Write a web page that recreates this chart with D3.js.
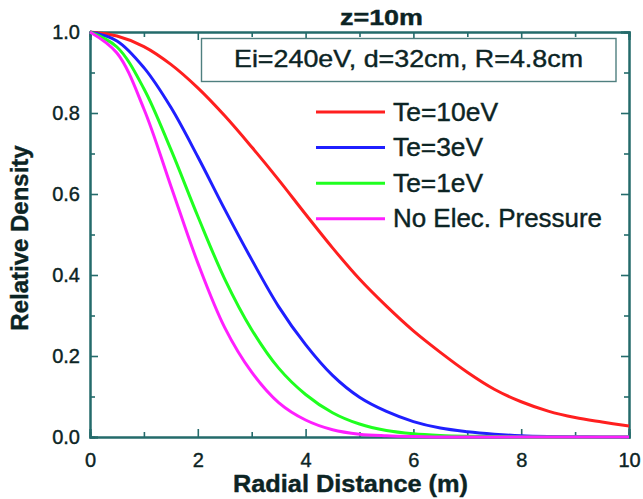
<!DOCTYPE html>
<html>
<head>
<meta charset="utf-8">
<script src="https://cdn.jsdelivr.net/npm/d3@7/dist/d3.min.js"></script>
<style>
  html, body { margin: 0; padding: 0; background: #fff; }
  svg { display: block; }
  text { font-family: "Liberation Sans", Arial, Helvetica, sans-serif; fill: #0c2424; stroke: #0c2424; stroke-width: 0.4px; }
</style>
</head>
<body>
<svg id="chart" width="643" height="499"></svg>
<script>
// Radial distance samples (m)
const radius = [0, 0.5, 1, 1.5, 2, 2.5, 3, 3.5, 4, 4.5, 5, 5.5, 6, 6.5, 7, 7.5, 8, 8.5, 9, 9.5, 10];

// Relative density profiles for each electron temperature case
const te10 = [1.0, 0.99, 0.964, 0.92, 0.862, 0.793, 0.716, 0.635, 0.55, 0.467, 0.39, 0.323, 0.262, 0.209, 0.16, 0.118, 0.087, 0.064, 0.048, 0.037, 0.027];
const te3  = [1.0, 0.978, 0.912, 0.814, 0.692, 0.562, 0.438, 0.322, 0.228, 0.152, 0.098, 0.063, 0.038, 0.022, 0.013, 0.007, 0.003, 0.0012, 0.0005, 0.0002, 0.0];
const te1  = [1.0, 0.963, 0.86, 0.71, 0.545, 0.39, 0.265, 0.17, 0.105, 0.06, 0.032, 0.016, 0.008, 0.004, 0.002, 0.001, 0.0, 0.0, 0.0, 0.0, 0.0];
const noPe = [1.0, 0.948, 0.81, 0.62, 0.43, 0.27, 0.16, 0.085, 0.042, 0.018, 0.007, 0.003, 0.001, 0.0, 0.0, 0.0, 0.0, 0.0, 0.0, 0.0, 0.0];

const seriesNames  = ["Te=10eV", "Te=3eV", "Te=1eV", "No Elec. Pressure"];
const seriesValues = [te10, te3, te1, noPe];
const seriesColors = ["#ff1f1f", "#1f1fff", "#1fff1f", "#ff1fff"];

const xMajor = [0, 2, 4, 6, 8, 10];
const xMinor = [1, 3, 5, 7, 9];
const yMajor = [0, 0.2, 0.4, 0.6, 0.8, 1.0];
const yMinor = [0.1, 0.3, 0.5, 0.7, 0.9];

const titleText = "z=10m";
const infoText = "Ei=240eV, d=32cm,  R=4.8cm";
const xLabel = "Radial Distance (m)";
const yLabel = "Relative Density";

const svg = d3.select("#chart");
const plotL = 90, plotR = 629, plotT = 32, plotB = 437;
const axisColor = "#246b6b";

const x = d3.scaleLinear().domain([0, 10]).range([plotL, plotR]);
const y = d3.scaleLinear().domain([0, 1]).range([plotB, plotT]);

function styleAxis(g) {
  g.selectAll("path.domain").attr("stroke", axisColor).attr("stroke-width", 2);
  g.selectAll(".tick line").attr("stroke", axisColor).attr("stroke-width", 1.6);
  g.selectAll(".tick text").style("font-size", "20px").attr("fill", "#0c2424");
}

// Bottom axis: labelled majors + minors, ticks pointing inward
const gb = svg.append("g").attr("transform", `translate(0,${plotB})`)
  .call(d3.axisBottom(x).tickValues(xMajor).tickSize(-8).tickPadding(16).tickFormat(d3.format("d")));
styleAxis(gb);
const gbm = svg.append("g").attr("transform", `translate(0,${plotB})`)
  .call(d3.axisBottom(x).tickValues(xMinor).tickSize(-5).tickFormat(""));
styleAxis(gbm);

// Top axis
const gt = svg.append("g").attr("transform", `translate(0,${plotT})`)
  .call(d3.axisTop(x).tickValues(xMajor).tickSize(-8).tickFormat(""));
styleAxis(gt);
const gtm = svg.append("g").attr("transform", `translate(0,${plotT})`)
  .call(d3.axisTop(x).tickValues(xMinor).tickSize(-5).tickFormat(""));
styleAxis(gtm);

// Left axis
const gl = svg.append("g").attr("transform", `translate(${plotL},0)`)
  .call(d3.axisLeft(y).tickValues(yMajor).tickSize(-8).tickPadding(10).tickFormat(d3.format(".1f")));
styleAxis(gl);
const glm = svg.append("g").attr("transform", `translate(${plotL},0)`)
  .call(d3.axisLeft(y).tickValues(yMinor).tickSize(-5).tickFormat(""));
styleAxis(glm);

// Right axis
const gr = svg.append("g").attr("transform", `translate(${plotR},0)`)
  .call(d3.axisRight(y).tickValues(yMajor).tickSize(-8).tickFormat(""));
styleAxis(gr);
const grm = svg.append("g").attr("transform", `translate(${plotR},0)`)
  .call(d3.axisRight(y).tickValues(yMinor).tickSize(-5).tickFormat(""));
styleAxis(grm);

// Density curves
const line = d3.line()
  .x((d, i) => x(radius[i]))
  .y(d => y(d))
  .curve(d3.curveCatmullRom.alpha(0.5));

svg.append("g").selectAll("path.curve")
  .data(seriesValues)
  .join("path")
  .attr("class", "curve")
  .attr("fill", "none")
  .attr("stroke", (d, i) => seriesColors[i])
  .attr("stroke-width", 3)
  .attr("stroke-linejoin", "round")
  .attr("d", line);

// Parameter box
svg.append("rect")
  .attr("x", 201.5).attr("y", 38.5).attr("width", 414.5).attr("height", 43)
  .attr("fill", "#fff").attr("stroke", "#4f7f7f").attr("stroke-width", 1.4);
svg.append("text")
  .attr("x", 234).attr("y", 67)
  .attr("textLength", 349).attr("lengthAdjust", "spacingAndGlyphs")
  .style("font-size", "24px")
  .text(infoText);

// Legend
const legendWidths = [105, 90, 90, 209];
const legend = svg.append("g");
seriesNames.forEach((name, i) => {
  const ly = 112 + i * 35.6;
  legend.append("line")
    .attr("x1", 316).attr("x2", 385).attr("y1", ly).attr("y2", ly)
    .attr("stroke", seriesColors[i]).attr("stroke-width", 3);
  legend.append("text")
    .attr("x", 393).attr("y", ly + 8.5)
    .attr("textLength", legendWidths[i]).attr("lengthAdjust", "spacingAndGlyphs")
    .style("font-size", "25px")
    .text(name);
});

// Title
svg.append("text")
  .attr("x", 340).attr("y", 25)
  .attr("textLength", 83).attr("lengthAdjust", "spacingAndGlyphs")
  .style("font-size", "22px").style("font-weight", "bold")
  .text(titleText);

// Axis titles
svg.append("text")
  .attr("x", 233).attr("y", 492)
  .attr("textLength", 235).attr("lengthAdjust", "spacingAndGlyphs")
  .style("font-size", "24px").style("font-weight", "bold")
  .text(xLabel);

svg.append("text")
  .attr("transform", `translate(28,238) rotate(-90)`)
  .attr("text-anchor", "middle")
  .style("font-size", "24px").style("font-weight", "bold")
  .text(yLabel);
</script>
</body>
</html>
